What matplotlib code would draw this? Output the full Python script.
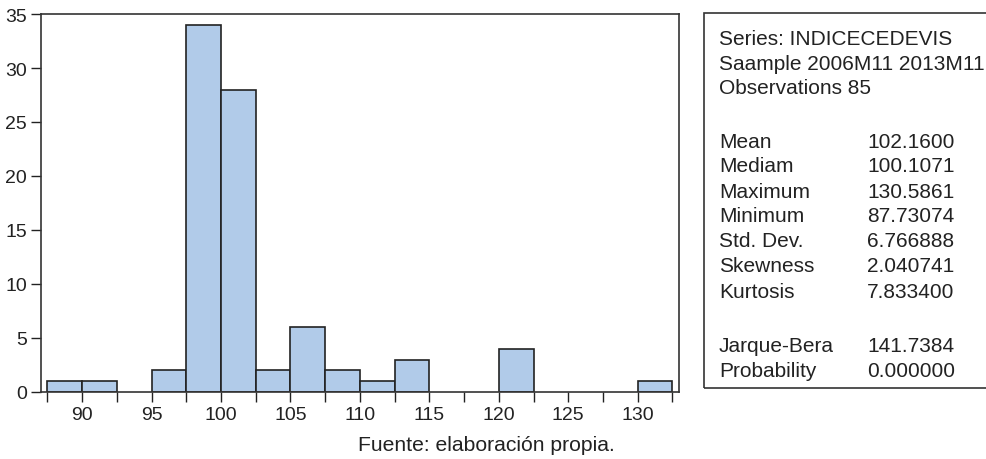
import matplotlib
matplotlib.use("Agg")
import matplotlib.pyplot as plt
from matplotlib.patches import Rectangle

plt.rcParams['font.family'] = ['Liberation Sans', 'DejaVu Sans']

# histogram data (bin width 2.5)
bin_left = [87.5, 90.0, 92.5, 95.0, 97.5, 100.0, 102.5, 105.0, 107.5,
            110.0, 112.5, 115.0, 117.5, 120.0, 122.5, 125.0, 127.5, 130.0]
counts = [1, 1, 0, 2, 34, 28, 2, 6, 2, 1, 3, 0, 0, 4, 0, 0, 0, 1]
bin_width = 2.5

stat_names = ['Mean', 'Mediam', 'Maximum', 'Minimum', 'Std. Dev.',
              'Skewness', 'Kurtosis']
stat_values = ['102.1600', '100.1071', '130.5861', '87.73074', '6.766888',
               '2.040741', '7.833400']
test_names = ['Jarque-Bera', 'Probability']
test_values = ['141.7384', '0.000000']
header = ['Series: INDICECEDEVIS', 'Saample 2006M11 2013M11', 'Observations 85']

fig = plt.figure(figsize=(9.87, 4.6), dpi=100)
ax = fig.add_axes([41/987, 1 - 393/460, (679-41)/987, (393-15)/460])

xs = [b for b, c in zip(bin_left, counts) if c > 0]
hs = [c for c in counts if c > 0]
ax.bar(xs, hs, width=bin_width, align='edge', color='#b1cbe9',
       edgecolor='#222222', linewidth=1.2, zorder=2)

edges = [87.5 + i * bin_width for i in range(19)]
ax.set_xlim(87.04, 132.97)
ax.set_ylim(0, 35)
ax.set_xticks(edges)
ax.set_xticklabels([('%d' % v) if v % 5 == 0 else '' for v in edges])
ax.set_yticks(range(0, 36, 5))
ax.tick_params(direction='out', length=7, width=1.0, colors='#222222',
               labelsize=14, labelcolor='#222222', pad=3)
for s in ax.spines.values():
    s.set_color('#333333')
    s.set_linewidth(1.2)

fig.text(486/987, 1 - 446/460, 'Fuente: elaboración propia.',
         ha='center', va='center', fontsize=15.2, color='#222222')

# statistics box
box = Rectangle((704/987, 1 - 389/460), 0.32, (389-14)/460,
                transform=fig.transFigure, fill=False,
                edgecolor='#333333', linewidth=1.2, clip_on=False)
fig.patches.append(box)

x1 = 719/987
x2 = 867/987
fs = 15


def put(y, name, value=None):
    fig.text(x1, 1 - y/460, name, va='center', ha='left', fontsize=fs,
             color='#222222')
    if value is not None:
        fig.text(x2, 1 - y/460, value, va='center', ha='left', fontsize=fs,
                 color='#222222')


for i, t in enumerate(header):
    put(40 + i * 24.5, t)
for i, (n, v) in enumerate(zip(stat_names, stat_values)):
    put(142 + i * 25, n, v)
for i, (n, v) in enumerate(zip(test_names, test_values)):
    put(347 + i * 25, n, v)

fig.savefig('out.png', dpi=100)
